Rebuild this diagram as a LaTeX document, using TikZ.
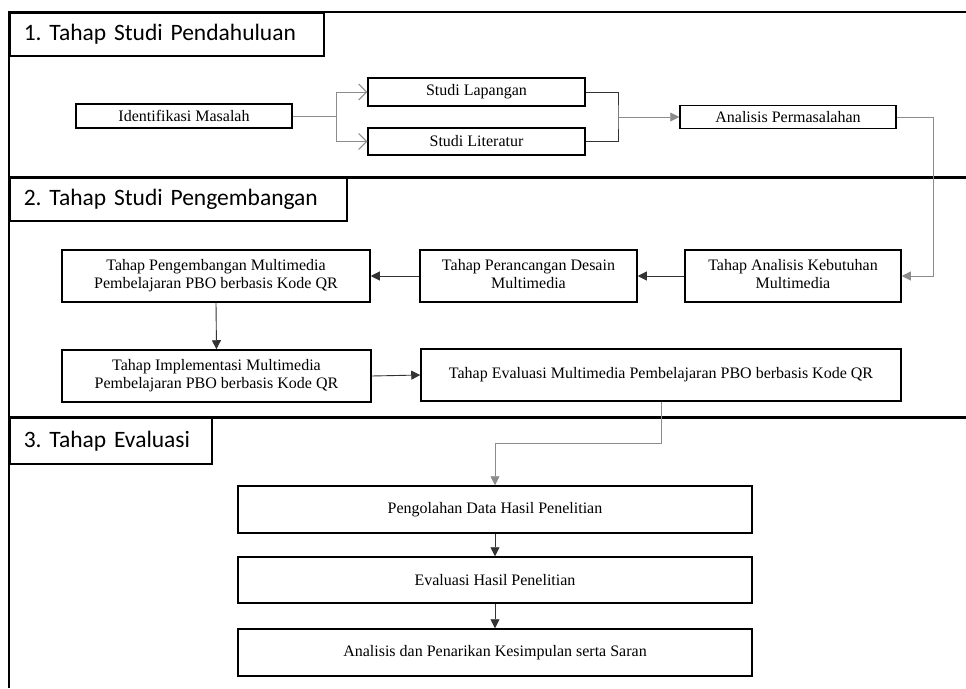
\documentclass[tikz,border=0pt]{standalone}
\usepackage{fontspec}
\setmainfont{Liberation Serif}
\newfontfamily\judulfont{Carlito}
\frenchspacing
\usetikzlibrary{arrows.meta,positioning}
\tikzset{
    tahap/.style={
           rectangle,
           draw=black,
           line width=1.5pt,
           inner sep=2pt,
           text centered,
           font=\fontsize{16}{18}\selectfont,
           },
    judul/.style={
           rectangle,
           draw=black,
           line width=1.5pt,
           anchor=north west,
           minimum height=43pt,
           inner xsep=14pt,
           align=left,
           font=\judulfont\fontsize{23.5}{27}\selectfont,
           },
    garis/.style={draw=black!45,line width=0.9pt},
    hubung/.style={draw=black!80,line width=0.9pt},
}

\begin{document}
\begin{tikzpicture}[x=1pt,y=-1pt,>={Triangle[length=9pt,width=9pt]}]
\useasboundingbox (0,0) rectangle (966,688);
% bingkai dan pembatas tahap
\draw[line width=1.5pt] (9,688) -- (9,12) -- (966,12);
\draw[line width=3pt] (9,177) -- (966,177);
\draw[line width=3pt] (9,417) -- (966,417);
\node[judul,text width=286pt](judul1) at (9,12) {1. Tahap Studi Pendahuluan};
\node[judul,text width=309pt](judul2) at (9,177) {2. Tahap Studi Pengembangan};
\node[judul,text width=174pt,minimum height=46pt](judul3) at (9,417) {3. Tahap Evaluasi};

% tahap 1
\node[tahap,minimum width=216pt,minimum height=24pt](identifikasi) at (184,116) {Identifikasi Masalah};
\node[tahap,minimum width=217pt,minimum height=28pt](lapangan) at (476.5,92) {Studi Lapangan};
\node[tahap,minimum width=217pt,minimum height=27pt](literatur) at (476.5,141.5) {Studi Literatur};
\node[tahap,minimum width=216pt,minimum height=23pt](analisis) at (788,117) {Analisis Permasalahan};
\coordinate (cabang) at (336,116);
\coordinate (gabung) at (618,117);

% tahap 2
\node[tahap,minimum width=216pt,minimum height=52pt](kebutuhan) at (793,276) {
  \begin{tabular}{@{}c@{}}
    Tahap Analisis Kebutuhan\\
    Multimedia
  \end{tabular}
};
\node[tahap,minimum width=217pt,minimum height=52pt](perancangan) at (528.5,276) {
  \begin{tabular}{@{}c@{}}
    Tahap Perancangan Desain\\
    Multimedia
  \end{tabular}
};
\node[tahap,minimum width=308pt,minimum height=52pt](pengembangan) at (216,276) {
  \begin{tabular}{@{}c@{}}
    Tahap Pengembangan Multimedia\\
    Pembelajaran PBO berbasis Kode QR
  \end{tabular}
};
\node[tahap,minimum width=309pt,minimum height=52pt](implementasi) at (216.5,376) {
  \begin{tabular}{@{}c@{}}
    Tahap Implementasi Multimedia\\
    Pembelajaran PBO berbasis Kode QR
  \end{tabular}
};
\node[tahap,minimum width=480pt,minimum height=52pt](evaluasi) at (661,375) {Tahap Evaluasi Multimedia Pembelajaran PBO berbasis Kode QR};

% tahap 3
\node[tahap,minimum width=514pt,minimum height=47pt](pengolahan) at (495,509.5) {Pengolahan Data Hasil Penelitian};
\node[tahap,minimum width=514pt,minimum height=46pt](hasil) at (495,580) {Evaluasi Hasil Penelitian};
\node[tahap,minimum width=514pt,minimum height=47pt](kesimpulan) at (495,652.5) {Analisis dan Penarikan Kesimpulan serta Saran};

\draw[garis] (identifikasi.east) -- (cabang);
\draw[garis,-{Straight Barb[length=8pt,width=16pt]}] (cabang) |- (lapangan.west);
\draw[garis,-{Straight Barb[length=8pt,width=16pt]}] (cabang) |- (literatur.west);
\draw[hubung] (lapangan.east) -| (gabung) |- (literatur.east);
\draw[garis,->] (gabung) -- (analisis.west);
\draw[garis,->] (analisis.east) -- ++(37,0) |- (kebutuhan.east);
\draw[hubung,->] (kebutuhan.west) -- (perancangan.east);
\draw[hubung,->] (perancangan.west) -- (pengembangan.east);
\draw[hubung,->] (pengembangan.south) -- (implementasi.north);
\draw[hubung,->] (implementasi.east) -- (evaluasi.west);
\draw[garis,->] (evaluasi.south) -- ++(0,42) -| (pengolahan.north);
\draw[hubung,->] (pengolahan.south) -- (hasil.north);
\draw[hubung,->] (hasil.south) -- (kesimpulan.north);
\end{tikzpicture}
\end{document}
